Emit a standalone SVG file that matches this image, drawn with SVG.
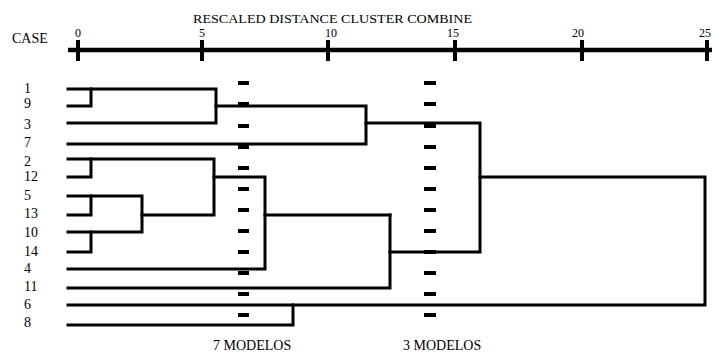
<svg xmlns="http://www.w3.org/2000/svg" width="715" height="352" viewBox="0 0 715 352">
<style>
text{font-family:"Liberation Serif","Times New Roman",serif;fill:#000}
.lbl{font-size:14px}
.tk{font-size:12px;text-anchor:middle}
.ln{fill:none;stroke:#000;stroke-width:3;stroke-linejoin:miter;stroke-linecap:square}
.ax{stroke:#000;stroke-width:4.5}
.tick{stroke:#000;stroke-width:4}
.dash{fill:#000}
</style>
<rect width="715" height="352" fill="#fff"/>
<g id="axis">
<text x="193" y="23" style="font-size:13px" textLength="279" lengthAdjust="spacingAndGlyphs">RESCALED DISTANCE CLUSTER COMBINE</text>
<text x="12" y="43" class="lbl">CASE</text>
<line class="ax" x1="68" y1="50" x2="712" y2="50"/>
<line class="tick" x1="78" y1="40" x2="78" y2="61"/>
<line class="tick" x1="202" y1="40" x2="202" y2="61"/>
<line class="tick" x1="328" y1="40" x2="328" y2="61"/>
<line class="tick" x1="455" y1="40" x2="455" y2="61"/>
<line class="tick" x1="582" y1="40" x2="582" y2="61"/>
<line class="tick" x1="707" y1="40" x2="707" y2="61"/>
<text class="tk" x="78" y="37">0</text>
<text class="tk" x="202" y="37">5</text>
<text class="tk" x="331" y="37">10</text>
<text class="tk" x="453" y="37">15</text>
<text class="tk" x="578" y="37">20</text>
<text class="tk" x="705" y="37">25</text>
</g>
<g id="cases" class="lbl">
<text x="24" y="93">1</text>
<text x="24" y="108">9</text>
<text x="24" y="129">3</text>
<text x="24" y="147">7</text>
<text x="24" y="166">2</text>
<text x="24" y="181">12</text>
<text x="24" y="200">5</text>
<text x="24" y="218">13</text>
<text x="24" y="237">10</text>
<text x="24" y="256">14</text>
<text x="24" y="273">4</text>
<text x="24" y="291">11</text>
<text x="24" y="309">6</text>
<text x="24" y="327">8</text>
</g>
<g id="connectors">
<path class="ln" d="M68,106 H91 V89"/>
<path class="ln" d="M68,89 H216 V123 H68"/>
<path class="ln" d="M216,106 H366 V144 H68"/>
<path class="ln" d="M366,123 H480 V252 H390"/>
<path class="ln" d="M390,215 V288 H68"/>
<path class="ln" d="M390,215 H265"/>
<path class="ln" d="M214,177 H265 V269 H68"/>
<path class="ln" d="M68,159 H214 V215 H142"/>
<path class="ln" d="M68,177 H91 V159"/>
<path class="ln" d="M68,196 H142 V232 H68"/>
<path class="ln" d="M68,215 H91 V196"/>
<path class="ln" d="M68,252 H91 V232"/>
<path class="ln" d="M480,177 H705 V305 H68"/>
<path class="ln" d="M68,325 H293 V305"/>
</g>
<g id="cut7">
<rect class="dash" x="238" y="81" width="11" height="4"/>
<rect class="dash" x="238" y="102" width="11" height="4"/>
<rect class="dash" x="238" y="124" width="11" height="4"/>
<rect class="dash" x="238" y="145" width="11" height="4"/>
<rect class="dash" x="238" y="166" width="11" height="4"/>
<rect class="dash" x="238" y="187" width="11" height="4"/>
<rect class="dash" x="238" y="208" width="11" height="4"/>
<rect class="dash" x="238" y="229" width="11" height="4"/>
<rect class="dash" x="238" y="250" width="11" height="4"/>
<rect class="dash" x="238" y="271" width="11" height="4"/>
<rect class="dash" x="238" y="292" width="11" height="4"/>
<rect class="dash" x="238" y="313" width="11" height="4"/>
<text x="213" y="350" class="lbl">7 MODELOS</text>
</g>
<g id="cut3">
<rect class="dash" x="424" y="81" width="12" height="4"/>
<rect class="dash" x="424" y="102" width="12" height="4"/>
<rect class="dash" x="424" y="124" width="12" height="4"/>
<rect class="dash" x="424" y="145" width="12" height="4"/>
<rect class="dash" x="424" y="166" width="12" height="4"/>
<rect class="dash" x="424" y="187" width="12" height="4"/>
<rect class="dash" x="424" y="208" width="12" height="4"/>
<rect class="dash" x="424" y="229" width="12" height="4"/>
<rect class="dash" x="424" y="250" width="12" height="4"/>
<rect class="dash" x="424" y="271" width="12" height="4"/>
<rect class="dash" x="424" y="292" width="12" height="4"/>
<rect class="dash" x="424" y="313" width="12" height="4"/>
<text x="403" y="350" class="lbl">3 MODELOS</text>
</g>
</svg>
